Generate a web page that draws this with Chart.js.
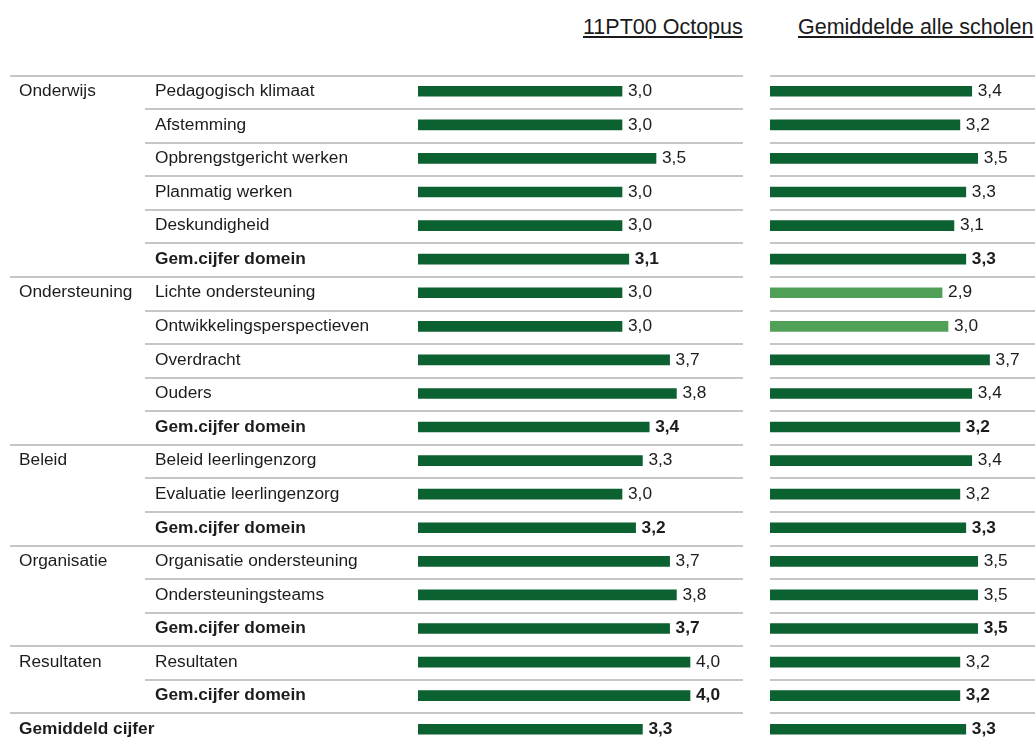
<!DOCTYPE html>
<html>
<head>
<meta charset="utf-8">
<script src="https://cdn.jsdelivr.net/npm/chart.js@4.4.1/dist/chart.umd.min.js"></script>
<style>
    html, body { margin: 0; padding: 0; background: #fff; overflow: hidden; width: 1035px; height: 740px; }
    #wrap { position: relative; width: 1035px; height: 740px; overflow: hidden; }
    .head { position: absolute; top: 15px; font: 21.5px 'Liberation Sans', Arial, sans-serif; color: #1a1a1a; text-decoration: underline; white-space: nowrap; }
    #leftChart { position: absolute; left: 0; top: 0; }
    #rightChart { position: absolute; left: 760px; top: 0; }
</style>
</head>
<body>
<div id="wrap">
    <div class="head" style="left:583px">11PT00 Octopus</div>
    <div class="head" style="left:798px">Gemiddelde alle scholen</div>
    <canvas id="leftChart" width="760" height="760"></canvas>
    <canvas id="rightChart" width="280" height="760"></canvas>
</div>
<script>
const domainLabels = [
    'Onderwijs', '', '', '', '', '',
    'Ondersteuning', '', '', '', '',
    'Beleid', '', '',
    'Organisatie', '', '',
    'Resultaten', '',
    'Gemiddeld cijfer'
];
const rowLabels = [
    'Pedagogisch klimaat', 'Afstemming', 'Opbrengstgericht werken', 'Planmatig werken', 'Deskundigheid', 'Gem.cijfer domein',
    'Lichte ondersteuning', 'Ontwikkelingsperspectieven', 'Overdracht', 'Ouders', 'Gem.cijfer domein',
    'Beleid leerlingenzorg', 'Evaluatie leerlingenzorg', 'Gem.cijfer domein',
    'Organisatie ondersteuning', 'Ondersteuningsteams', 'Gem.cijfer domein',
    'Resultaten', 'Gem.cijfer domein',
    ''
];
const schoolValues = [3.0, 3.0, 3.5, 3.0, 3.0, 3.1, 3.0, 3.0, 3.7, 3.8, 3.4, 3.3, 3.0, 3.2, 3.7, 3.8, 3.7, 4.0, 4.0, 3.3];
const averageValues = [3.4, 3.2, 3.5, 3.3, 3.1, 3.3, 2.9, 3.0, 3.7, 3.4, 3.2, 3.4, 3.2, 3.3, 3.5, 3.5, 3.5, 3.2, 3.2, 3.3];
// rows of the average that are marked in the lighter green
const flaggedRows = [6, 7];

const darkGreen = '#0b612f';
const lightGreen = '#51a057';
const lineColor = '#c6c6c6';
const textColor = '#1c1c1c';
const fontFamily = "'Liberation Sans', Arial, sans-serif";
const fontSize = '17.3px ';

const isBold = (i) => rowLabels[i] === 'Gem.cijfer domein' || i === rowLabels.length - 1;
const fmt = (v) => v.toFixed(1).replace('.', ',');

const rowStep = (chart) => (chart.chartArea.bottom - chart.chartArea.top) / rowLabels.length;

// separator lines + row texts on the left table
const tablePlugin = {
    id: 'tablePlugin',
    beforeDatasetsDraw(chart) {
        const ctx = chart.ctx;
        const y = chart.scales.y;
        const step = rowStep(chart);
        ctx.save();
        ctx.strokeStyle = lineColor;
        ctx.lineWidth = 2;
        rowLabels.forEach((label, i) => {
            const top = Math.round(y.getPixelForValue(i) - step / 2) + 1;
            ctx.beginPath();
            ctx.moveTo(domainLabels[i] ? 10 : 145, top);
            ctx.lineTo(743, top);
            ctx.stroke();
        });
        ctx.fillStyle = textColor;
        ctx.textBaseline = 'middle';
        rowLabels.forEach((label, i) => {
            const cy = y.getPixelForValue(i);
            ctx.font = (isBold(i) ? 'bold ' : '') + fontSize + fontFamily;
            if (label) ctx.fillText(label, 155, cy);
            if (domainLabels[i]) {
                ctx.font = (i === rowLabels.length - 1 ? 'bold ' : '') + fontSize + fontFamily;
                ctx.fillText(domainLabels[i], 19, cy);
            }
        });
        ctx.restore();
    }
};

// separator lines on the right table
const rightLines = {
    id: 'rightLines',
    beforeDatasetsDraw(chart) {
        const ctx = chart.ctx;
        const y = chart.scales.y;
        const step = rowStep(chart);
        ctx.save();
        ctx.strokeStyle = lineColor;
        ctx.lineWidth = 2;
        rowLabels.forEach((label, i) => {
            const top = Math.round(y.getPixelForValue(i) - step / 2) + 1;
            ctx.beginPath();
            ctx.moveTo(chart.chartArea.left, top);
            ctx.lineTo(275, top);
            ctx.stroke();
        });
        ctx.restore();
    }
};

// value labels after each bar
const valueLabels = {
    id: 'valueLabels',
    afterDatasetsDraw(chart) {
        const ctx = chart.ctx;
        const values = chart.data.datasets[0].data;
        ctx.save();
        ctx.fillStyle = textColor;
        ctx.textBaseline = 'middle';
        chart.getDatasetMeta(0).data.forEach((bar, i) => {
            ctx.font = (isBold(i) ? 'bold ' : '') + fontSize + fontFamily;
            ctx.fillText(fmt(values[i]), bar.x + 6, bar.y);
        });
        ctx.restore();
    }
};

const makeChart = (id, values, colors, max, padding, plugins) => {
    return new Chart(document.getElementById(id), {
        type: 'bar',
        data: {
            labels: rowLabels,
            datasets: [{
                data: values,
                backgroundColor: colors,
                borderWidth: 0,
                barThickness: 10
            }]
        },
        options: {
            indexAxis: 'y',
            responsive: false,
            animation: false,
            devicePixelRatio: 1,
            layout: { padding: padding },
            plugins: { legend: { display: false }, tooltip: { enabled: false } },
            scales: {
                x: { display: false, min: 0, max: max },
                y: { display: false, offset: true }
            }
        },
        plugins: plugins
    });
};

makeChart('leftChart', schoolValues, schoolValues.map(() => darkGreen), 5,
    { left: 418, right: 2, top: 74.5, bottom: 14 }, [tablePlugin, valueLabels]);

makeChart('rightChart', averageValues,
    averageValues.map((v, i) => flaggedRows.includes(i) ? lightGreen : darkGreen), 4.5,
    { left: 10, right: 3, top: 74.5, bottom: 14 }, [rightLines, valueLabels]);
</script>
</body>
</html>
